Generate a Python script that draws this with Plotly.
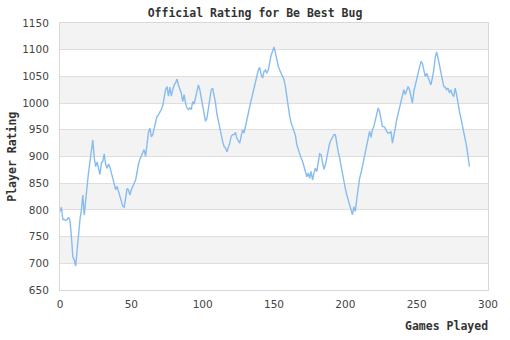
import plotly.graph_objects as go

title_text = "Official Rating for Be Best Bug"
x_title = "Games Played"
y_title = "Player Rating"

ratings = [
    797, 805, 782, 782, 780, 782, 786, 780, 750, 712,
    706, 695, 725, 756, 782, 800, 828, 790, 812, 844,
    870, 894, 915, 931, 898, 881, 890, 875, 866, 888,
    891, 905, 885, 878, 886, 880, 868, 856, 847, 838,
    844, 835, 826, 816, 807, 805, 825, 840, 837, 828,
    838, 846, 850, 856, 872, 885, 895, 902, 906, 913,
    900, 928, 945, 953, 937, 941, 953, 966, 975, 978,
    982, 988, 995, 1012, 1025, 1031, 1013, 1030, 1013, 1025,
    1034, 1038, 1045, 1034, 1025, 1019, 1003, 1016, 1000, 991,
    988, 991, 988, 1003, 998, 1012, 1025, 1034, 1025, 1009,
    994, 978, 966, 972, 990, 1009, 1025, 1028, 1016, 1000,
    980, 965, 950, 936, 928, 919, 916, 909, 916, 925,
    938, 941, 941, 945, 934, 928, 925, 938, 950, 944,
    959, 972, 981, 994, 1006, 1019, 1031, 1044, 1053, 1062,
    1067, 1053, 1047, 1059, 1062, 1056, 1062, 1081, 1090, 1097,
    1105, 1094, 1081, 1069, 1062, 1056, 1050, 1044, 1031, 1013,
    988, 975, 963, 956, 950, 940, 922, 912, 906, 897,
    891, 881, 872, 862, 869, 859, 872, 856, 869, 878,
    872, 888, 905, 903, 890, 876, 884, 900, 912, 925,
    931, 937, 941, 941, 922, 909, 897, 881, 864, 850,
    840, 828, 818, 806, 797, 791, 806, 797, 820, 840,
    859, 869, 881, 897, 910, 922, 932, 947, 936, 950,
    956, 966, 978, 991, 984, 969, 956, 956, 953, 947,
    944, 944, 947, 925, 937, 953, 969, 981, 994, 1000,
    1012, 1025, 1016, 1025, 1031, 1025, 1009, 1000, 1022, 1034,
    1044, 1053, 1066, 1078, 1074, 1062, 1050, 1056, 1047, 1041,
    1034, 1047, 1062, 1085, 1096, 1084, 1070, 1056, 1045, 1031,
    1030, 1025, 1028, 1019, 1025, 1016, 1012, 1028, 1016, 997,
    984, 972, 959, 947, 930, 919, 900, 881,
]
games = list(range(len(ratings)))

y_ticks = [650, 700, 750, 800, 850, 900, 950, 1000, 1050, 1100, 1150]
x_ticks = [0, 50, 100, 150, 200, 250, 300]

fig = go.Figure()
fig.add_trace(go.Scatter(
    x=games, y=ratings, mode="lines",
    line=dict(color="#86bcf0", width=1.4),
    hoverinfo="x+y", showlegend=False,
))

# alternating bands (from the top down)
shapes = []
top_down = y_ticks[::-1]
for i in range(0, len(top_down) - 1, 2):
    shapes.append(dict(
        type="rect", xref="paper", yref="y", x0=0, x1=1,
        y0=top_down[i + 1], y1=top_down[i],
        fillcolor="#f3f3f3", line=dict(width=0), layer="below",
    ))

mono = "DejaVu Sans Mono"
fig.update_layout(
    width=510, height=340,
    margin=dict(l=60, r=20, t=23, b=50),
    paper_bgcolor="white", plot_bgcolor="white",
    shapes=shapes,
    title=dict(text="<b>" + title_text + "</b>", x=0.5, xref="container",
               xanchor="center", y=1 - 13 / 340, yref="container", yanchor="middle",
               font=dict(family=mono, size=11.5, color="#333333")),
    xaxis=dict(range=[0, 300], tickvals=x_ticks, showgrid=False, zeroline=False,
               showline=True, linecolor="#d8d8d8", linewidth=1, mirror=True,
               ticks="", ticklabelstandoff=4,
               tickfont=dict(family="DejaVu Sans", size=10.5, color="#444444")),
    yaxis=dict(range=[650, 1150], tickvals=y_ticks, showgrid=True, gridcolor="#dedede",
               gridwidth=1, zeroline=False, showline=True, linecolor="#d8d8d8",
               linewidth=1, mirror=True, ticks="", ticklabelstandoff=8,
               tickfont=dict(family="DejaVu Sans", size=10.5, color="#444444")),
    annotations=[
        dict(text="<b>" + x_title + "</b>", xref="paper", yref="paper",
             x=1.004, y=-(326 - 290) / 267, xanchor="right", yanchor="middle",
             showarrow=False, font=dict(family=mono, size=11.5, color="#333333")),
        dict(text="<b>" + y_title + "</b>", xref="paper", yref="paper",
             x=-(60 - 11) / 430, y=0.5, xanchor="center", yanchor="middle",
             textangle=-90, showarrow=False,
             font=dict(family=mono, size=11.5, color="#333333")),
    ],
)

fig.write_html("out.html")
